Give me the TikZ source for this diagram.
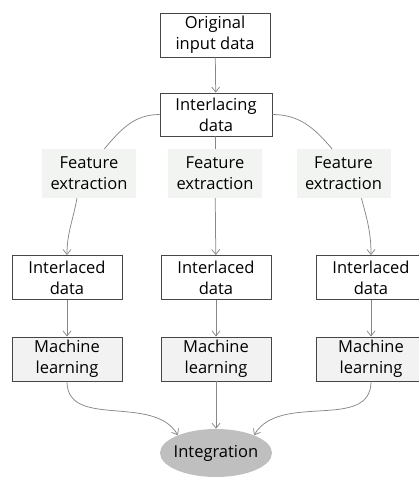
\documentclass[tikz,border=0pt]{standalone}
\usepackage{fontspec}
\setmainfont{Open Sans}
\usetikzlibrary{arrows.meta,shapes.geometric}
\definecolor{boxgray}{RGB}{70,70,70}
\definecolor{linegray}{RGB}{135,135,135}
\definecolor{featfill}{RGB}{242,244,242}
\definecolor{learnfill}{RGB}{242,242,242}
\definecolor{integfill}{RGB}{191,191,191}

\begin{document}
\begin{tikzpicture}[x=1pt,y=1pt,>={Straight Barb[length=5pt,width=8pt]},
  font=\fontsize{16.5}{21}\selectfont,
  databox/.style={draw=boxgray,line width=0.9pt,fill=white,align=center,minimum width=110pt,minimum height=44pt,inner sep=0pt},
  featbox/.style={fill=featfill,align=center,minimum width=94pt,minimum height=49pt,inner sep=0pt},
  learnbox/.style={databox,fill=learnfill},
  integnode/.style={ellipse,fill=integfill,minimum width=112pt,minimum height=48pt,inner xsep=-8pt,inner ysep=0pt},
  conn/.style={draw=linegray,line width=0.75pt}]
  \useasboundingbox (0,0) rectangle (419,-477);
  \clip (0,0) rectangle (419,-477);
  % top of the flow
  \node[databox] (orig) at (215,-35) {Original\\input data};
  \node[databox,minimum width=112pt,minimum height=43pt] (interl) at (216,-114.5) {Interlacing\\data};
  % three branches
  \foreach \i/\xx in {1/89,2/215,3/343.5}
    \node[featbox] (fe\i) at (\xx,-173.5) {Feature\\extraction};
  \foreach \i/\xx in {1/67,2/216,3/371}{
    \node[databox] (ild\i) at (\xx,-277.5) {Interlaced\\data};
    \node[learnbox] (ml\i) at (\xx,-359) {Machine\\learning};
  }
  \node[integnode] (integ) at (216,-453) {Integration};
  % connectors
  \draw[conn,->] (orig) -- (interl);
  \draw[conn] (interl.west) to[out=180,in=50] (fe1.58);
  \draw[conn,->] (fe1.244) to[out=-100,in=90] (ild1.north);
  \draw[conn] (interl) -- (fe2);
  \draw[conn,->] (fe2) -- (ild2);
  \draw[conn] (interl.east) to[out=0,in=130] (fe3.115);
  \draw[conn,->] (fe3.306) to[out=-75,in=90] (ild3.north);
  \foreach \i in {1,2,3}
    \draw[conn,->] (ild\i) -- (ml\i);
  \draw[conn,->] (ml1.south) to[out=-90,in=120] (integ.155);
  \draw[conn,->] (ml2) -- (integ);
  \draw[conn,->] (ml3.south) to[out=-90,in=60] (integ.25);
\end{tikzpicture}
\end{document}
